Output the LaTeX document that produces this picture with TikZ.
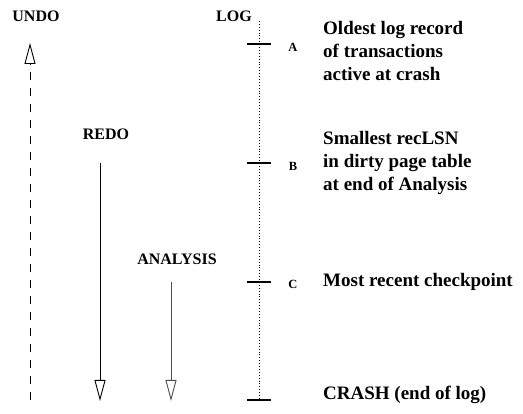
\documentclass[tikz,border=0pt]{standalone}
\usepackage{fontspec}
\setmainfont{Liberation Serif}
\usetikzlibrary{arrows.meta}

\begin{document}
\begin{tikzpicture}[x=1pt,y=-1pt,
		phase/.style={font=\bfseries\fontsize{16}{18}\selectfont,inner sep=0pt},
		lsn/.style={font=\bfseries\fontsize{12.5}{14}\selectfont,inner sep=0pt},
		note/.style={font=\bfseries\fontsize{19}{23}\selectfont,align=left,anchor=west,inner sep=0pt},
		pass/.style={-{Triangle[open,length=21pt,width=11pt]},line width=0.9pt}]
		\def\tk{12pt}
		\useasboundingbox (0,0) rectangle (523,414);
		% the log and its records
		\coordinate (logtop) at (259,21);
		\coordinate (logA) at (259,44);
		\coordinate (logB) at (259,163);
		\coordinate (logC) at (259,282);
		\coordinate (logend) at (259,400);
		\draw [dotted,line width=0.9pt] (logtop) -- (logend);
		\foreach \p in {logA,logB,logC,logend}
			\draw [line width=1.8pt] ([xshift=-\tk]\p) -- ([xshift=\tk]\p);
		\node [phase] (log) at (234,16) {LOG};
		\node [lsn] (lblA) at (293,47) {A};
		\node [lsn] (lblB) at (293,166) {B};
		\node [lsn] (lblC) at (293,284) {C};
		\node [note] (oldest) at (323,51) {Oldest log record\\of transactions\\active at crash};
		\node [note] (reclsn) at (323,163) {Smallest recLSN\\in dirty page table\\at end of Analysis};
		\node [note] (ckpt) at (323,282) {Most recent checkpoint};
		\node [note] (crash) at (323,395) {CRASH (end of log)};
		% the three passes
		\node [phase] (undo) at (36,16) {UNDO};
		\node [phase] (redo) at (106,134) {REDO};
		\node [phase] (analysis) at (177,259) {ANALYSIS};
		\coordinate (undoS) at (30,400);
		\coordinate (undoE) at (30,43);
		\coordinate (redoS) at (100,163);
		\coordinate (redoE) at (100,401);
		\coordinate (anaS) at (171,282);
		\coordinate (anaE) at (171,401);
		\draw [pass,dash pattern=on 8pt off 8pt] (undoS) -- (undoE);
		\draw [pass] (redoS) -- (redoE);
		\draw [pass,black!70] (anaS) -- (anaE);
	\end{tikzpicture}
\end{document}
